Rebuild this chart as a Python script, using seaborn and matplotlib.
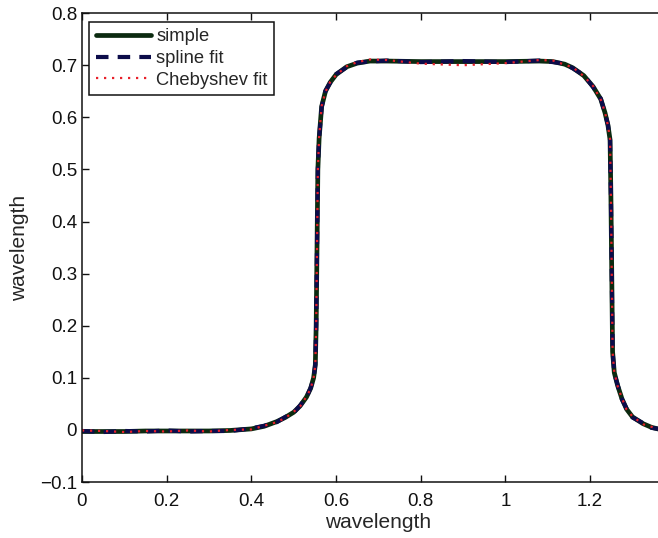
import matplotlib
matplotlib.use("Agg")
import matplotlib.pyplot as plt
import seaborn as sns
import pandas as pd

# wavelength samples (shared by all three curves)
x_vals = [0.0, 0.05, 0.1, 0.15, 0.2, 0.25, 0.3, 0.35, 0.4, 0.43, 0.46, 0.48,
          0.50, 0.515, 0.53, 0.54, 0.547, 0.551, 0.553, 0.555, 0.557, 0.56,
          0.566, 0.575, 0.586, 0.60, 0.625, 0.65, 0.68, 0.72, 0.8, 0.9, 1.0,
          1.08, 1.112, 1.14, 1.159, 1.185, 1.207, 1.225, 1.235, 1.242, 1.247,
          1.249, 1.251, 1.253, 1.257, 1.265, 1.275, 1.286, 1.30, 1.325, 1.345,
          1.37, 1.4]

simple = [-0.003, -0.003, -0.003, -0.002, -0.002, -0.002, -0.002, -0.001,
          0.002, 0.007, 0.016, 0.024, 0.034, 0.046, 0.063, 0.080, 0.100, 0.125,
          0.200, 0.350, 0.500, 0.560, 0.621, 0.650, 0.667, 0.682, 0.697, 0.704,
          0.708, 0.708, 0.707, 0.707, 0.707, 0.708, 0.707, 0.702, 0.695, 0.680,
          0.659, 0.635, 0.609, 0.585, 0.557, 0.450, 0.300, 0.150, 0.110, 0.085,
          0.060, 0.040, 0.025, 0.012, 0.005, 0.000, -0.002]

spline = [-0.002, -0.004, -0.002, -0.003, -0.001, -0.003, -0.002, -0.002,
          0.003, 0.008, 0.015, 0.025, 0.033, 0.047, 0.062, 0.081, 0.099, 0.126,
          0.201, 0.349, 0.501, 0.561, 0.620, 0.651, 0.666, 0.683, 0.696, 0.705,
          0.707, 0.709, 0.706, 0.708, 0.706, 0.709, 0.706, 0.703, 0.694, 0.681,
          0.658, 0.636, 0.608, 0.586, 0.556, 0.451, 0.299, 0.151, 0.109, 0.086,
          0.059, 0.041, 0.024, 0.013, 0.004, 0.001, -0.002]

chebyshev = [-0.001, -0.002, -0.004, -0.002, -0.003, -0.001, -0.003, 0.000,
             0.001, 0.008, 0.015, 0.023, 0.035, 0.045, 0.064, 0.079, 0.101,
             0.124, 0.201, 0.351, 0.499, 0.562, 0.622, 0.649, 0.668, 0.681,
             0.698, 0.706, 0.711, 0.710, 0.703, 0.700, 0.704, 0.710, 0.709,
             0.701, 0.696, 0.679, 0.660, 0.634, 0.610, 0.584, 0.558, 0.449,
             0.301, 0.149, 0.111, 0.084, 0.061, 0.039, 0.026, 0.011, 0.006,
             -0.001, -0.001]

x_ticks = [0, 0.2, 0.4, 0.6, 0.8, 1, 1.2]
x_tick_labels = ["0", "0.2", "0.4", "0.6", "0.8", "1", "1.2"]
y_ticks = [-0.1, 0, 0.1, 0.2, 0.3, 0.4, 0.5, 0.6, 0.7, 0.8]
y_tick_labels = ["\u22120.1", "0", "0.1", "0.2", "0.3", "0.4", "0.5", "0.6", "0.7", "0.8"]

df = pd.DataFrame({"x": x_vals, "simple": simple, "spline": spline, "cheb": chebyshev})

sns.set_style("ticks")
plt.rcParams['font.family'] = ['Liberation Sans', 'DejaVu Sans']

fig = plt.figure(figsize=(6.58, 5.38), dpi=100)
# axes runs past the right edge, like the cropped original
ax = fig.add_axes([0.1246, 0.104, 0.901, 0.8716])

sns.lineplot(data=df, x="x", y="simple", ax=ax, color="#0b2a10", lw=3.4,
             label="simple")
sns.lineplot(data=df, x="x", y="spline", ax=ax, color="#0c0c4a", lw=3.0,
             linestyle=(0, (3.0, 2.2)), label="spline fit")
sns.lineplot(data=df, x="x", y="cheb", ax=ax, color="#e8202a", lw=1.6,
             linestyle=(0, (1.0, 2.6)), label="Chebyshev fit")

ax.set_xlim(0, 1.4)
ax.set_ylim(-0.1, 0.8)
ax.set_xticks(x_ticks)
ax.set_xticklabels(x_tick_labels)
ax.set_yticks(y_ticks)
ax.set_yticklabels(y_tick_labels)
ax.tick_params(direction="in", top=True, right=True, labelsize=13.5,
               length=5, width=1, colors="#111111")
ax.tick_params(axis="x", pad=8)
for s in ax.spines.values():
    s.set_linewidth(1.1)
    s.set_color("#111111")

ax.set_xlabel("wavelength", fontsize=15, labelpad=2)
ax.set_ylabel("wavelength", fontsize=15, labelpad=8)

leg = ax.legend(loc="upper left", bbox_to_anchor=(0.012, 0.981),
                borderaxespad=0, fontsize=13.2,
                handlelength=3.0, handletextpad=0.3, borderpad=0.35,
                labelspacing=0.25, fancybox=False, framealpha=1,
                edgecolor="#111111")
leg.get_frame().set_linewidth(1.1)

fig.savefig("out.png", dpi=100)
